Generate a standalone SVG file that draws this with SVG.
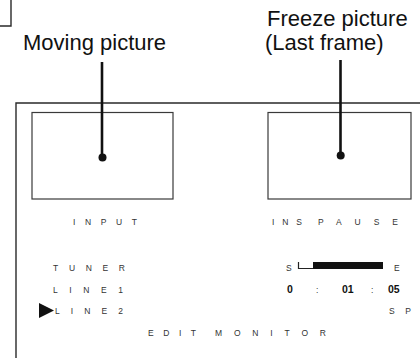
<svg xmlns="http://www.w3.org/2000/svg" width="420" height="358" viewBox="0 0 420 358">
<style>
.frame{fill:none;stroke:#2a2a2a;stroke-width:1.4}
.screen{fill:none;stroke:#3a3a3a;stroke-width:1.2}
.big{font-family:"Liberation Sans",Arial,sans-serif;font-size:22px;fill:#111}
.small{font-family:"Liberation Sans",Arial,sans-serif;font-size:8.5px;fill:#333}
.num{font-family:"Liberation Sans",Arial,sans-serif;font-size:10.5px;font-weight:bold;fill:#111}
.lead{stroke:#111;stroke-width:2.6;fill:none}
.dot{fill:#111}
</style>
<rect width="420" height="358" fill="#fff"/>
<g id="corner-box">
<polyline class="frame" points="11,0 11,26 0,26"/>
</g>
<g id="label-moving">
<text class="big" x="23" y="50">Moving picture</text>
</g>
<g id="label-freeze">
<text class="big" x="267" y="26">Freeze picture</text>
<text class="big" x="265" y="50">(Last frame)</text>
</g>
<g id="monitor-panel">
<polyline class="frame" points="420,103 16,103 16,358"/>
</g>
<g id="screen-input">
<rect class="screen" x="32" y="112.5" width="141" height="86.5"/>
<text class="small" x="73" y="225" textLength="64" lengthAdjust="spacing">INPUT</text>
</g>
<g id="screen-pause">
<rect class="screen" x="268" y="112.5" width="143" height="86.5"/>
<text class="small" x="272" y="225" textLength="30" lengthAdjust="spacing">INS</text>
<text class="small" x="318" y="225" textLength="80" lengthAdjust="spacing">PAUSE</text>
</g>
<g id="menu">
<text class="small" x="53" y="271" textLength="72" lengthAdjust="spacing">TUNER</text>
<text class="small" x="53" y="292.5" textLength="70" lengthAdjust="spacing">LINE1</text>
<polygon points="39,303 54,310.5 39,318" fill="#111"/>
<text class="small" x="55" y="314" textLength="68" lengthAdjust="spacing">LINE2</text>
</g>
<g id="status">
<text class="small" x="286" y="271">S</text>
<polyline points="298.5,262 298.5,268.5 313,268.5" fill="none" stroke="#222" stroke-width="1.2"/>
<rect x="313" y="262" width="70" height="7" fill="#111"/>
<text class="small" x="394" y="271">E</text>
<text class="num" x="287" y="293">0</text>
<text class="small" x="316" y="293">:</text>
<text class="num" x="342" y="293">01</text>
<text class="small" x="371" y="293">:</text>
<text class="num" x="388" y="293">05</text>
<text class="small" x="389" y="314" textLength="22" lengthAdjust="spacing">SP</text>
</g>
<g id="title">
<text class="small" x="148" y="335.5" textLength="48" lengthAdjust="spacing">EDIT</text>
<text class="small" x="215" y="335.5" textLength="111" lengthAdjust="spacing">MONITOR</text>
</g>
<g id="connectors">
<line class="lead" x1="102" y1="62" x2="102" y2="157"/>
<circle class="dot" cx="102.5" cy="157.5" r="4"/>
<line class="lead" x1="340.5" y1="60" x2="340.5" y2="155"/>
<circle class="dot" cx="340.7" cy="155.5" r="4"/>
</g>
</svg>
